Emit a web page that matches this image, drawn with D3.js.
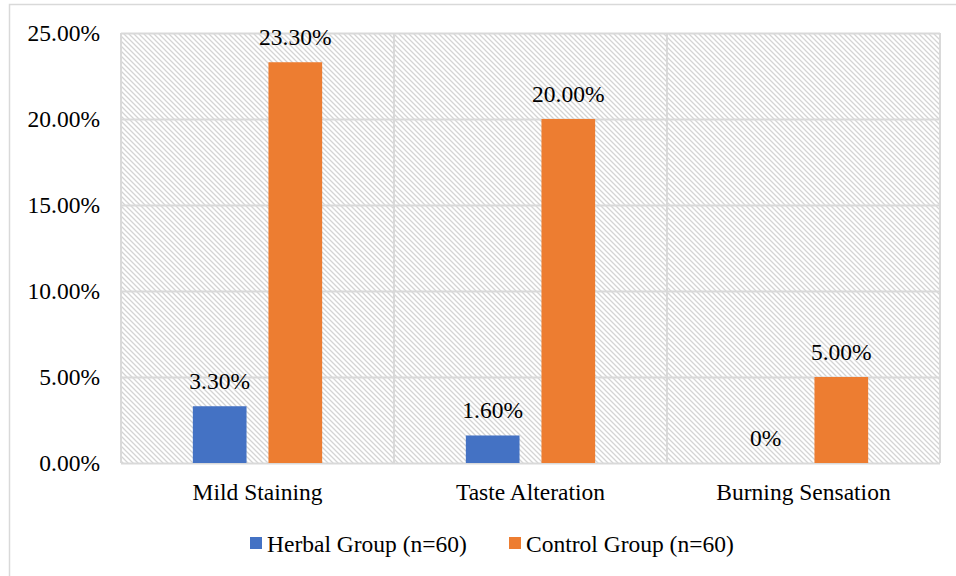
<!DOCTYPE html>
<html>
<head>
<meta charset="utf-8">
<script src="https://cdn.jsdelivr.net/npm/d3@7/dist/d3.min.js"></script>
</head>
<body style="margin:0;padding:0;background:#fff">
<svg id="chart" width="956" height="576" style="display:block"></svg>
<script>
const categories = ["Mild Staining", "Taste Alteration", "Burning Sensation"];
const seriesNames = ["Herbal Group (n=60)", "Control Group (n=60)"];
const herbalValues = [3.3, 1.6, 0];
const controlValues = [23.3, 20.0, 5.0];
const herbalLabels = ["3.30%", "1.60%", "0%"];
const controlLabels = ["23.30%", "20.00%", "5.00%"];
const yTicks = [0, 5, 10, 15, 20, 25];
const yTickLabels = ["0.00%", "5.00%", "10.00%", "15.00%", "20.00%", "25.00%"];
const colors = ["#4472C4", "#ED7D31"];

const FONT = "Liberation Serif";
const fs = "23.5px";
const svg = d3.select("#chart").attr("font-family", FONT);
const W = 956, H = 576;
const plot = {left: 121, right: 940, top: 33, bottom: 463};
const grid = "#d9d9d9";

function styleText(sel) {
  sel.attr("font-family", FONT).style("font-family", '"Liberation Serif"').style("font-size", fs).attr("fill", "#000");
}

// outer border
svg.append("rect").attr("x", 9.5).attr("y", 4.5).attr("width", W).attr("height", H)
  .attr("fill", "none").attr("stroke", grid).attr("stroke-width", 1.5);

// hatch pattern
const defs = svg.append("defs");
const pat = defs.append("pattern").attr("id", "hatch").attr("patternUnits", "userSpaceOnUse")
  .attr("width", 5).attr("height", 5);
pat.append("path").attr("d", "M-1,-1 L6,6 M-1,4 L1,6 M4,-1 L6,1")
  .attr("stroke", "#d4d4d4").attr("stroke-width", 1.3).attr("fill", "none");

const x0 = d3.scaleBand().domain(categories).range([plot.left, plot.right]).paddingInner(0).paddingOuter(0);
const x1 = d3.scaleBand().domain(seriesNames).range([0, x0.bandwidth()]).paddingInner(0.29).paddingOuter(0.95);
const y = d3.scaleLinear().domain([0, 25]).range([plot.bottom, plot.top]);

svg.append("rect").attr("x", plot.left).attr("y", plot.top)
  .attr("width", plot.right - plot.left).attr("height", plot.bottom - plot.top)
  .attr("fill", "url(#hatch)");

// horizontal gridlines
const yAxis = d3.axisLeft(y).tickValues(yTicks).tickSize(-(plot.right - plot.left))
  .tickFormat((d, i) => yTickLabels[i]).tickPadding(21);
const gy = svg.append("g").attr("transform", `translate(${plot.left},0)`).call(yAxis);
gy.attr("font-family", FONT).attr("font-size", null);
gy.select(".domain").remove();
gy.selectAll(".tick line").attr("stroke", grid).attr("stroke-width", 2);
styleText(gy.selectAll(".tick text"));

// vertical category dividers
const dividers = categories.map(c => x0(c)).concat([plot.right]);
svg.append("g").selectAll("line").data(dividers).join("line")
  .attr("x1", d => d).attr("x2", d => d).attr("y1", plot.top).attr("y2", plot.bottom)
  .attr("stroke", grid).attr("stroke-width", 2);

// bars
const data = categories.map((c, i) => ({
  cat: c,
  vals: [
    {s: seriesNames[0], v: herbalValues[i], label: herbalLabels[i], color: colors[0]},
    {s: seriesNames[1], v: controlValues[i], label: controlLabels[i], color: colors[1]}
  ]
}));
const groups = svg.append("g").selectAll("g").data(data).join("g")
  .attr("transform", d => `translate(${x0(d.cat)},0)`);
groups.selectAll("rect").data(d => d.vals).join("rect")
  .attr("x", d => x1(d.s)).attr("width", x1.bandwidth())
  .attr("y", d => y(d.v)).attr("height", d => y(0) - y(d.v))
  .attr("fill", d => d.color);
styleText(groups.selectAll("text").data(d => d.vals).join("text")
  .attr("x", d => x1(d.s) + x1.bandwidth() / 2)
  .attr("y", d => y(d.v) - 17)
  .attr("text-anchor", "middle")
  .text(d => d.label));

// category labels
const xAxis = d3.axisBottom(x0).tickSize(0).tickPadding(20);
const gx = svg.append("g").attr("transform", `translate(0,${plot.bottom})`).call(xAxis);
gx.attr("font-family", FONT).attr("font-size", null);
gx.select(".domain").remove();
styleText(gx.selectAll(".tick text"));

// legend
const legendX = [250, 509];
const lg = svg.append("g").selectAll("g").data(seriesNames).join("g")
  .attr("transform", (d, i) => `translate(${legendX[i]},537)`);
lg.append("rect").attr("width", 12).attr("height", 12).attr("fill", (d, i) => colors[i]);
styleText(lg.append("text").attr("x", 17).attr("y", 15).text(d => d));
</script>
</body>
</html>
